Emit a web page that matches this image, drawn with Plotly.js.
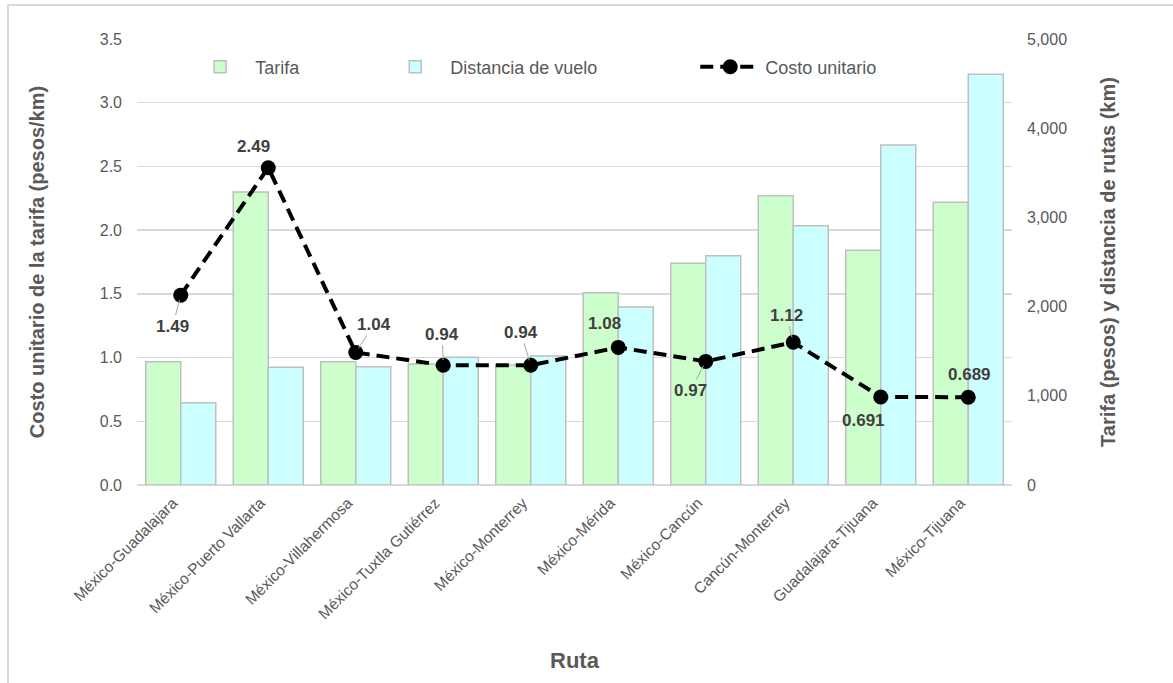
<!DOCTYPE html>
<html>
<head>
<meta charset="utf-8">
<script src="https://cdn.plot.ly/plotly-3.0.1.min.js"></script>
<style>
  html, body { margin: 0; padding: 0; background: #ffffff; overflow: hidden; }
  #frame { position: absolute; left: 7px; top: 4px; width: 1300px; height: 800px;
           border-left: 2px solid #d9d9d9; border-top: 2px solid #d9d9d9; pointer-events: none; }
  #chart { position: absolute; left: 0; top: 0; width: 1173px; height: 720px; }
</style>
</head>
<body>
<div id="frame"></div>
<div id="chart"></div>
<script>
// ---- data ----
const rutas = ["México-Guadalajara", "México-Puerto Vallarta", "México-Villahermosa",
  "México-Tuxtla Gutiérrez", "México-Monterrey", "México-Mérida", "México-Cancún",
  "Cancún-Monterrey", "Guadalajara-Tijuana", "México-Tijuana"];
const tarifa = [1382, 3285, 1382, 1356, 1345, 2156, 2485, 3243, 2631, 3169];
const distancia = [923, 1319, 1326, 1431, 1446, 1996, 2571, 2907, 3812, 4604];
const costoUnitario = [1.49, 2.49, 1.04, 0.94, 0.94, 1.08, 0.97, 1.12, 0.691, 0.689];

// ---- label placement (style) ----
const labelOffsetX = [-8, -15, 18, -1, -10, -14, -15, -7, -17, 1];
const labelOffsetY = [31, -21, -28, -31, -33, -24, 29, -27, 24, -23];
const labelLeader  = [true, false, true, true, true, false, true, true, false, false];

const gray = "#595959";
const fontFam = "Liberation Sans, Arial, sans-serif";

const traces = [
  { type: "bar", name: "Tarifa", x: rutas, y: tarifa, yaxis: "y", legend: "legend",
    marker: { color: "#ccffcc", line: { color: "#bfbfbf", width: 1.5 } } },
  { type: "bar", name: "Distancia de vuelo", x: rutas, y: distancia, yaxis: "y", legend: "legend2",
    marker: { color: "#ccffff", line: { color: "#bfbfbf", width: 1.5 } } },
  { type: "scatter", mode: "lines+markers", name: "Costo unitario", x: rutas, y: costoUnitario,
    yaxis: "y2", legend: "legend3",
    line: { color: "#000000", width: 4, dash: "13px,7px" },
    marker: { color: "#000000", size: 15 } }
];

const annotations = costoUnitario.map((v, i) => ({
  x: rutas[i], y: v, xref: "x", yref: "y2",
  text: String(v), showarrow: true, arrowhead: 0, arrowwidth: 1,
  arrowcolor: labelLeader[i] ? "#a6a6a6" : "rgba(0,0,0,0)",
  ax: labelOffsetX[i], ay: labelOffsetY[i], standoff: 5,
  font: { family: fontFam, size: 17, color: "#404040", weight: "bold" }
}));

const legendBase = {
  orientation: "h", xref: "paper", yref: "paper", xanchor: "left", yanchor: "middle",
  y: 0.937, bgcolor: "rgba(0,0,0,0)", itemwidth: 60,
  font: { family: fontFam, size: 18, color: gray }
};

const layout = {
  width: 1173, height: 720,
  margin: { l: 137, r: 161, t: 39, b: 235 },
  paper_bgcolor: "rgba(0,0,0,0)", plot_bgcolor: "rgba(0,0,0,0)",
  font: { family: fontFam, color: gray },
  barmode: "group", bargap: 0.2, bargroupgap: 0,
  showlegend: true,
  legend: Object.assign({}, legendBase, { x: 0.055 }),
  legend2: Object.assign({}, legendBase, { x: 0.278 }),
  legend3: Object.assign({}, legendBase, { x: 0.638 }),
  xaxis: {
    type: "category", range: [-0.5, 9.5], tickangle: -45, ticks: "", showgrid: false, showline: false,
    automargin: true, ticklabelstandoff: 5, ticklabelshift: -8,
    tickfont: { family: fontFam, size: 15.5, color: gray },
    title: { text: "Ruta", standoff: 31, font: { family: fontFam, size: 22, color: gray, weight: "bold" } }
  },
  yaxis: {
    side: "right", range: [0, 5000], dtick: 1000, tickformat: ",", showgrid: false,
    zeroline: false, showline: false, ticks: "", ticklabelstandoff: 14, automargin: false,
    tickfont: { family: fontFam, size: 16, color: gray },
    title: { text: "Tarifa (pesos) y distancia de rutas (km)", standoff: 34,
      font: { family: fontFam, size: 20, color: gray, weight: "bold" } }
  },
  yaxis2: {
    overlaying: "y", side: "left", range: [0, 3.5], dtick: 0.5, tickformat: ".1f",
    showgrid: true, gridcolor: "#d9d9d9", gridwidth: 1.5, zeroline: true, automargin: false,
    zerolinecolor: "#d9d9d9", zerolinewidth: 1.5, showline: false, ticks: "", ticklabelstandoff: 14,
    tickfont: { family: fontFam, size: 16, color: gray },
    title: { text: "Costo unitario de la tarifa (pesos/km)", standoff: 49,
      font: { family: fontFam, size: 20, color: gray, weight: "bold" } }
  },
  annotations: annotations
};

Plotly.newPlot("chart", traces, layout, { displayModeBar: false, staticPlot: true });
</script>
</body>
</html>
